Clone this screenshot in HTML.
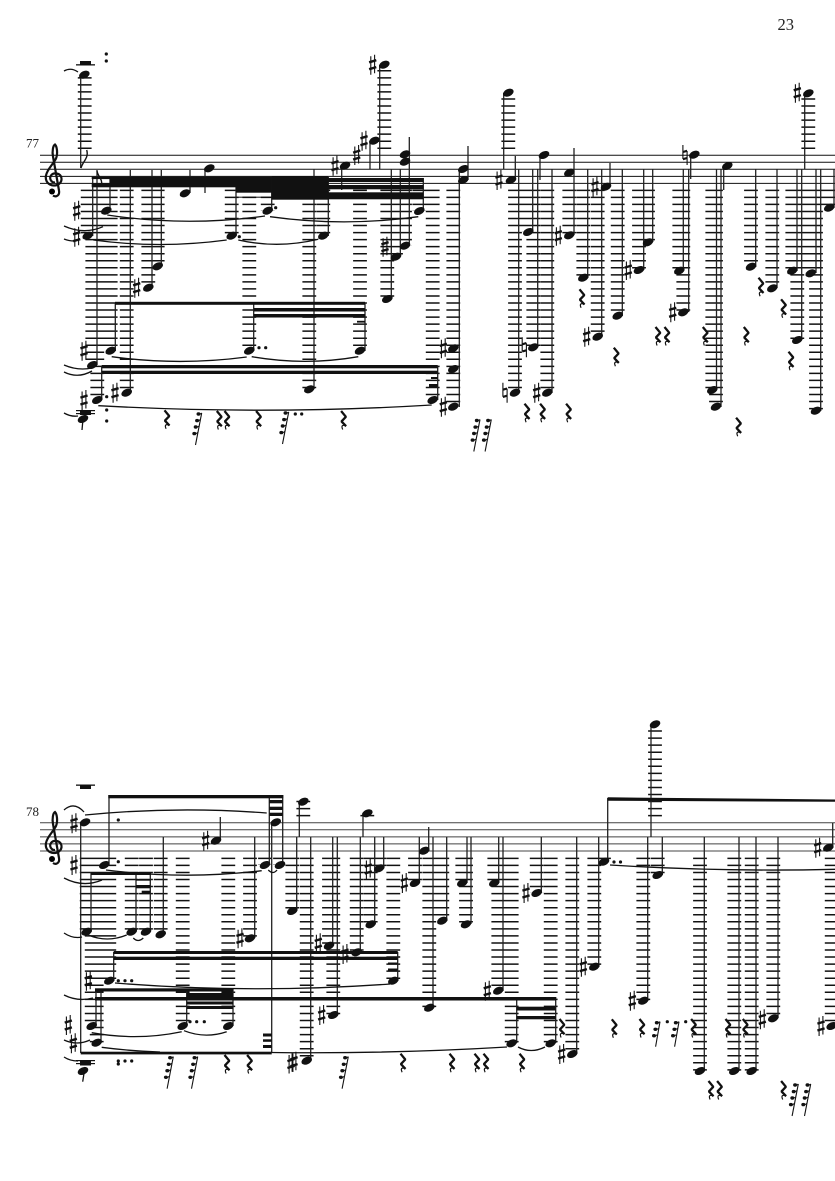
<!DOCTYPE html>
<html><head><meta charset="utf-8"><title>Score page 23</title>
<style>html,body{margin:0;padding:0;background:#fff}svg{display:block}text{font-family:"Liberation Serif",serif;fill:#222}</style></head>
<body>
<svg width="835" height="1181" viewBox="0 0 835 1181" xmlns="http://www.w3.org/2000/svg">
<defs>
<ellipse id="n" rx="5.600" ry="3.600" transform="rotate(-25)"/>
<g id="s" fill="none" stroke="#111"><path d="M-1.900-8.500V10M1.900-10V8.500" stroke-width="1.100"/><path d="M-3.600-2.400L3.600-4.500M-3.600 4.500L3.600 2.400" stroke-width="2.400"/></g>
<g id="h" fill="none" stroke="#111"><path d="M-2.100-10V4M2.100-4V10" stroke-width="1.100"/><path d="M-2.100-3L2.100-4.200M-2.100 4.200L2.100 3" stroke-width="2.200"/></g>
<g id="r" fill="none" stroke="#111"><path d="M-2.200-9L2.600-3.200L-1.800 1.400L2.800 6.200" stroke-width="2.300" stroke-linejoin="bevel"/><path d="M2.800 6.200C.5 4.800-2.800 4.600-.6 9.500" stroke-width="1.200"/></g>
<g id="f5"><path d="M0 0L-6.200 32" stroke="#111" stroke-width="1.100" fill="none"/><ellipse cx="-3.200" cy="1" rx="2" ry="1.700"/><ellipse cx="-4.600" cy="7.600" rx="2" ry="1.700"/><ellipse cx="-6" cy="14" rx="2" ry="1.700"/><ellipse cx="-7.400" cy="20.600" rx="2" ry="1.700"/><path d="M-3 2L0 0M-4.400 8.600L-1.400 6.600M-5.800 15L-2.700 13M-7.200 21.600L-4 19.600" stroke="#111"/></g>
<g id="f3"><path d="M0 0L-4.400 25" stroke="#111" stroke-width="1.100" fill="none"/><ellipse cx="-3.200" cy="1" rx="2" ry="1.700"/><ellipse cx="-4.600" cy="7.600" rx="2" ry="1.700"/><ellipse cx="-6" cy="14" rx="2" ry="1.700"/><path d="M-3 2L0 0M-4.400 8.600L-1.400 6.600M-5.800 15L-2.700 13" stroke="#111"/></g>
<g id="c"><path fill="none" stroke="#111" stroke-width="2.200" d="M1 6C-3 6-5 2-3-1C-1-4 5-4 7 0C9 5 5 9 0 9C-6 9-9 4-8-1C-7-7-1-12 2-18C4-23 3-30 1-32C-1-31-2-25-1-20L5 14C6 19 2 21-1 19"/><circle cx="-2" cy="15" r="3"/></g>
</defs>

<text x="777.500" y="30" font-size="16.500">23</text>
<text x="26" y="147.500" font-size="13">77</text>
<text x="26" y="816" font-size="13">78</text>

<!-- staves -->
<path fill="none" stroke="#111" stroke-width="1" d="M40 155.300H835M40 162.300H835M40 169.300H835M40 176.400H835M40 183.400H835"/>
<path fill="none" stroke="#444" stroke-width="1" d="M40 822.800H835M40 829.800H835M40 836.900H835M40 843.900H835M40 851H835"/>
<use href="#c" x="54" y="176.500"/><use href="#c" x="54" y="844"/>

<!-- ledger columns system 1 -->
<path fill="none" stroke="#111" stroke-width="13.800" stroke-dasharray="1.500 5.540" d="M87.700 189.600V236M92.300 189.600V365M97.300 189.600V400M106.300 189.600V211M110.700 189.600V351M126.700 189.600V393M148.300 189.600V288M157.700 189.600V266M231.700 189.600V236M249.300 189.600V351M267.700 189.600V211M309.300 189.600V389M323.300 189.600V236M360 189.600V351M387.300 189.600V299M396 189.600V257M405 189.600V246M419.300 189.600V211M432.700 189.600V400M453.300 189.600V407M515 189.600V393M528.300 189.600V232M533.300 189.600V347M547.300 189.600V393M569.300 189.600V235M583.300 189.600V278M597.700 189.600V337M617.700 189.600V316M639 189.600V270M648 189.600V242M679.300 189.600V271M683.300 189.600V312M712.300 189.600V390M716 189.600V407M751 189.600V267M772.300 189.600V288M792.300 189.600V271M797.300 189.600V340M810.700 189.600V273M816 189.600V411M829.300 189.600V208"/>
<path fill="none" stroke="#111" stroke-width="13.800" stroke-dasharray="1.500 5.540" d="M84.700 149V76M384.300 149V68M508.300 149V96M808.300 149V96"/>

<!-- ledger columns system 2 -->
<path fill="none" stroke="#111" stroke-width="13.800" stroke-dasharray="1.500 5.550" d="M86.700 857.600V932M91.700 857.600V1026M96.700 857.600V1043M104.300 857.600V865M109.300 857.600V981M131.700 857.600V932M146 857.600V932M160.700 857.600V934M182.700 857.600V1026M228.300 857.600V1026M250 857.600V938M265 857.600V865M280 857.600V865M292.300 857.600V911M306.700 857.600V1061M329 857.600V946M333.300 857.600V1015M356.700 857.600V952M370.700 857.600V924M379.300 857.600V868M393.300 857.600V981M415 857.600V883M429.300 857.600V1008M442.300 857.600V921M462.300 857.600V883M466 857.600V924M494.300 857.600V883M498.300 857.600V991M511.700 857.600V1043M536.700 857.600V893M550.700 857.600V1043M572.300 857.600V1054M594.300 857.600V967M604 857.600V862M643.300 857.600V1001M657.700 857.600V875M700 857.600V1071M734.300 857.600V1071M751.700 857.600V1071M773.300 857.600V1018M831.700 857.600V1026"/>
<path fill="none" stroke="#111" stroke-width="13.800" stroke-dasharray="1.500 5.550" d="M303.300 816.400V800M367.300 816.400V814M655 816.400V727"/>

<!-- stems -->
<path fill="none" stroke="#222" stroke-width="1.300" d="M80.700 75V168M92.700 178V236M97 170V365M110 177V211M115.300 303V351M101.700 366V400M130.300 170V393M152 170V288M161.300 170V266M190 170V193M205 168V193M236 177V236M271.700 177V211M253.700 303V351M314 169V389M328.300 177V236M341.700 166V190M370 141V169M379.700 65V169M365 303V351M391.300 169V299M400.300 169V257M409.300 137V246M423.300 178V211M437.700 366V400M459.300 169V407M468 146V180M503.700 93V169M515.300 156V180M518.700 169V393M532.700 169V232M537.700 169V347M540 155V180M552 169V393M574 148V235M587.700 169V278M601.700 169V337M610 163V187M622.300 169V316M643.700 169V270M652.700 169V242M683.300 169V271M688.700 169V312M690.700 155V179M723.700 166V190M716.500 169V390M721 169V407M755.700 169V267M777 169V288M797 169V271M804.700 93V169M801.700 169V340M816 169V273M820.700 169V411M834 169V208"/>
<path fill="none" stroke="#222" stroke-width="1.300" d="M80.700 822V1053M109 795V865M269.300 795V865M282.700 795V865M271.700 822V1053M91 872V932M136 872V932M150.300 872V932M163.300 837V934M220.300 817V841M254.700 837V938M96 989V1026M101 989V1043M113.700 952V981M186.700 989V1026M233 989V1026M299.300 802V837M296.700 837V911M310.700 837V1061M332.700 837V946M337.300 837V1015M360.300 837V952M363 813V837M374.700 837V924M383.700 837V868M397.700 952V981M419.300 837V883M428.700 827V851M433 837V1008M446.700 837V921M467 837V883M471 837V924M498.700 837V883M503 837V991M516.700 997V1043M541.300 837V893M555.700 997V1043M576.700 837V1054M598.700 837V967M607.700 798V862M651 725V837M662.300 837V875M647.700 837V1001M704.300 837V1071M739 837V1071M756 837V1071M778 837V1018M832.700 823V848"/>

<!-- flags -->
<path fill="none" stroke="#111" stroke-width="1.400" d="M81 168C83 161 89 158 86.700 150M97 171C98 177 103 179 101.500 186"/>

<!-- beams -->
<g fill="#111">
<rect x="91.700" y="176.700" width="18.300" height="2.400"/><rect x="91.700" y="183" width="18.300" height="4.300"/>
<rect x="110" y="176.700" width="126" height="10.600"/>
<rect x="236" y="176.700" width="35.700" height="16"/><rect x="236" y="196.700" width="35.700" height="1"/>
<rect x="271.700" y="176.300" width="56.600" height="23.400"/>
<rect x="328" y="178" width="95.500" height="4"/><rect x="328" y="185" width="95.500" height="4.300"/><rect x="328" y="192.300" width="95.500" height="7"/>
<rect x="115" y="301.800" width="250" height="3"/><rect x="253.700" y="308" width="111.300" height="3.500"/><rect x="253.700" y="314" width="111.300" height="3.500"/><rect x="357" y="320.800" width="8" height="1.800"/>
<rect x="101.700" y="365" width="336" height="3.300"/><rect x="101.700" y="370.700" width="336" height="3.300"/>
<rect x="431" y="377" width="6.700" height="2"/><rect x="429" y="384" width="8.700" height="3"/>
<rect x="76" y="64.200" width="19" height="1.300"/><rect x="80" y="61" width="11" height="3.600"/>
<rect x="76" y="410" width="19" height="1.200"/><rect x="76" y="413" width="19" height="1.200"/><rect x="80" y="410.500" width="11" height="4.500"/>
<rect x="108.300" y="795" width="175" height="3.300"/>
<rect x="269.300" y="800" width="13.400" height="3.300"/><rect x="269.300" y="806.700" width="13.400" height="3.300"/><rect x="269.300" y="812.700" width="13.400" height="3.300"/>
<rect x="76" y="784.500" width="19" height="1.300"/><rect x="80" y="785" width="11" height="4"/>
<rect x="91" y="872" width="60" height="3"/><rect x="136" y="879" width="14.300" height="1.700"/><rect x="136" y="885" width="14.300" height="3.300"/><rect x="141.700" y="890.700" width="8.600" height="3"/>
<rect x="113.700" y="951" width="284" height="3"/><rect x="113.700" y="956.700" width="284" height="3.300"/><rect x="388" y="962.500" width="9.700" height="2"/><rect x="388" y="968.500" width="9.700" height="2"/>
<rect x="95" y="988.300" width="138" height="3.200"/><rect x="95" y="997" width="461" height="3.500"/>
<rect x="186.700" y="993" width="46.300" height="7.500"/><rect x="186.700" y="1001.500" width="46.300" height="3"/><rect x="186.700" y="1006" width="46.300" height="3"/>
<rect x="516.700" y="1006.700" width="39" height="3.800"/><rect x="516.700" y="1016" width="39" height="3.300"/>
<rect x="80.700" y="1051.700" width="191" height="2.700"/>
<rect x="263" y="1033.500" width="8.700" height="3"/><rect x="263" y="1039.300" width="8.700" height="2.500"/><rect x="263" y="1045" width="8.700" height="3"/>
<rect x="76" y="1060" width="19" height="1.200"/><rect x="76" y="1063" width="19" height="1.200"/><rect x="80" y="1060.500" width="11" height="5"/>
<path d="M607.700 797.300L835 799.500V801.800L607.700 800.700Z"/>
</g>

<!-- ties -->
<path fill="none" stroke="#111" stroke-width="1.300" d="M64 71Q71 67 78 72M107.300 215Q186 227 265 216M270 216.700Q344 227 418.300 216.700M93.300 240Q160 249 226.700 240M238.300 240Q278 249 318.300 239.300M64 226Q84 235 103 226.700M64 239Q69 241 74 241M111.700 356.700Q179 366 246.700 357M251.700 356.700Q305 366 358.300 356.700M64 365Q78 371 92 368M64 372Q78 379 92 371M98.300 405.700Q265 415 431.700 405M64 413Q71 417 78 416M64 810Q74 801 84 812M85 815Q176 806 266.700 813M106 870Q184 880 261.700 870.700M268.300 870Q273 875 277 870M64 878Q83 888 102 880M64 933Q73 939 82 937M88.300 935Q107 943 126.700 935M133.300 938Q138 943 143.300 938M115 983Q252 994 390 984M91.700 1032.700Q137 1041 181.700 1031.700M184 1030.700Q205 1039 226.700 1031.700M101.700 1047.300Q130 1051 160 1052M64 995Q78 1002 93 998M64 1040Q77 1046 90 1040M64 1057Q70 1061 78 1061M271 1052.500Q390 1054 507 1047M518 1047Q531 1054 545 1047M610 865Q720 872 835 869.300"/>

<!-- noteheads system 1 -->
<g fill="#111">
<use href="#n" x="84.300" y="74.700"/><use href="#n" x="106.300" y="210.700"/><use href="#n" x="87.700" y="235.700"/><use href="#n" x="110.700" y="350.700"/><use href="#n" x="92.300" y="365"/><use href="#n" x="126.700" y="392.700"/><use href="#n" x="97.300" y="400"/><use href="#n" x="148.300" y="287.700"/><use href="#n" x="157.700" y="266.300"/><use href="#n" x="185" y="193.300"/><use href="#n" x="209.300" y="168.300"/><use href="#n" x="231.700" y="235.700"/><use href="#n" x="267.700" y="210.700"/><use href="#n" x="249.300" y="350.700"/><use href="#n" x="309.300" y="389.300"/><use href="#n" x="323.300" y="235.700"/><use href="#n" x="345" y="165.700"/><use href="#n" x="374.300" y="140.700"/><use href="#n" x="384.300" y="64.700"/><use href="#n" x="360" y="350.700"/><use href="#n" x="387.300" y="299"/><use href="#n" x="396" y="256.700"/><use href="#n" x="405" y="245.700"/><use href="#n" x="405" y="154.300"/><use href="#n" x="405" y="161.700"/><use href="#n" x="419.300" y="211"/><use href="#n" x="432.700" y="400"/><use href="#n" x="453.300" y="348.300"/><use href="#n" x="453.300" y="369"/><use href="#n" x="453.300" y="406.700"/><use href="#n" x="463.300" y="169"/><use href="#n" x="463.300" y="180"/><use href="#n" x="508.300" y="92.700"/><use href="#n" x="511" y="180"/><use href="#n" x="515" y="392.700"/><use href="#n" x="528.300" y="232"/><use href="#n" x="533.300" y="347.300"/><use href="#n" x="544" y="155"/><use href="#n" x="547.300" y="392.700"/><use href="#n" x="569.300" y="172.700"/><use href="#n" x="569.300" y="235.300"/><use href="#n" x="583.300" y="277.700"/><use href="#n" x="597.700" y="336.700"/><use href="#n" x="606" y="186.700"/><use href="#n" x="617.700" y="315.700"/><use href="#n" x="639" y="270"/><use href="#n" x="648" y="242.300"/><use href="#n" x="679.300" y="270.700"/><use href="#n" x="683.300" y="312.300"/><use href="#n" x="694.300" y="154.700"/><use href="#n" x="727.300" y="166"/><use href="#n" x="712.300" y="390"/><use href="#n" x="716" y="406.700"/><use href="#n" x="751" y="266.700"/><use href="#n" x="772.300" y="288.300"/><use href="#n" x="792.300" y="270.700"/><use href="#n" x="797.300" y="340"/><use href="#n" x="808.300" y="93.300"/><use href="#n" x="810.700" y="273.300"/><use href="#n" x="816" y="410.700"/><use href="#n" x="829.300" y="207.700"/><use href="#n" x="83" y="419" />

<!-- noteheads system 2 -->
<use href="#n" x="85" y="822.300"/><use href="#n" x="104.300" y="865"/><use href="#n" x="265" y="865"/><use href="#n" x="280" y="865"/><use href="#n" x="275.700" y="822.300"/><use href="#n" x="86.700" y="931.700"/><use href="#n" x="131.700" y="931.700"/><use href="#n" x="146" y="931.700"/><use href="#n" x="160.700" y="934.300"/><use href="#n" x="216" y="840.700"/><use href="#n" x="250" y="938.300"/><use href="#n" x="91.700" y="1026"/><use href="#n" x="96.700" y="1042.700"/><use href="#n" x="109.300" y="980.700"/><use href="#n" x="182.700" y="1026"/><use href="#n" x="228.300" y="1026"/><use href="#n" x="83" y="1071"/><use href="#n" x="303.300" y="801.700"/><use href="#n" x="292.300" y="911"/><use href="#n" x="306.700" y="1060.700"/><use href="#n" x="329" y="945.700"/><use href="#n" x="333.300" y="1015"/><use href="#n" x="356.700" y="952.300"/><use href="#n" x="367.300" y="813.300"/><use href="#n" x="370.700" y="924.300"/><use href="#n" x="379.300" y="868.300"/><use href="#n" x="393.300" y="980.700"/><use href="#n" x="415" y="883"/><use href="#n" x="424.300" y="850.700"/><use href="#n" x="429.300" y="1007.700"/><use href="#n" x="442.300" y="920.700"/><use href="#n" x="462.300" y="883"/><use href="#n" x="466" y="924.300"/><use href="#n" x="494.300" y="883"/><use href="#n" x="498.300" y="990.700"/><use href="#n" x="511.700" y="1043.300"/><use href="#n" x="536.700" y="893"/><use href="#n" x="550.700" y="1043.300"/><use href="#n" x="572.300" y="1054"/><use href="#n" x="594.300" y="966.700"/><use href="#n" x="604" y="861.700"/><use href="#n" x="655" y="724.300"/><use href="#n" x="657.700" y="875"/><use href="#n" x="643.300" y="1000.700"/><use href="#n" x="700" y="1071"/><use href="#n" x="734.300" y="1071"/><use href="#n" x="751.700" y="1071"/><use href="#n" x="773.300" y="1018.300"/><use href="#n" x="828.300" y="847.700"/><use href="#n" x="831.700" y="1026"/>
</g>
<path fill="none" stroke="#111" stroke-width="1.300" d="M83 419L82 430M85 1067L82.700 1081.700"/>

<!-- accidentals -->
<use href="#s" x="76.700" y="210.700"/><use href="#s" x="76.700" y="236.700"/><use href="#s" x="84" y="350.700"/><use href="#s" x="84" y="400"/><use href="#s" x="115" y="392.700"/><use href="#s" x="136.700" y="287.700"/><use href="#s" x="335" y="165.700"/><use href="#s" x="356.700" y="155"/><use href="#s" x="364" y="140.700"/><use href="#s" x="372.700" y="64.700"/><use href="#s" x="385" y="246.700"/><use href="#s" x="443.300" y="348.300"/><use href="#s" x="443.300" y="406.700"/><use href="#s" x="499" y="180"/><use href="#s" x="536.700" y="392.700"/><use href="#s" x="558.300" y="235.700"/><use href="#s" x="586.700" y="336.700"/><use href="#s" x="595" y="186.700"/><use href="#s" x="628.300" y="270"/><use href="#s" x="672.700" y="312.300"/><use href="#s" x="797.300" y="92.700"/>
<use href="#h" x="505" y="392.700"/><use href="#h" x="524.300" y="347.300"/><use href="#h" x="685" y="155"/>
<use href="#s" x="74" y="823.300"/><use href="#s" x="74" y="865"/><use href="#s" x="205.700" y="840.700"/><use href="#s" x="240" y="938.300"/><use href="#s" x="88.300" y="980.700"/><use href="#s" x="68.300" y="1025"/><use href="#s" x="73.300" y="1043.300"/><use href="#s" x="294" y="1061.700"/><use href="#s" x="291" y="1063.500"/><use href="#s" x="318.300" y="943.300"/><use href="#s" x="321.700" y="1015"/><use href="#s" x="345" y="954"/><use href="#s" x="368.300" y="869"/><use href="#s" x="404.300" y="883"/><use href="#s" x="487.300" y="990.700"/><use href="#s" x="526" y="893"/><use href="#s" x="561.700" y="1054"/><use href="#s" x="583.300" y="966.700"/><use href="#s" x="632.300" y="1000.700"/><use href="#s" x="762.300" y="1019.300"/><use href="#s" x="817.700" y="847.700"/><use href="#s" x="821" y="1026"/>

<!-- rests -->
<g fill="#111">
<use href="#r" x="166.700" y="419.300"/><use href="#r" x="219" y="420"/><use href="#r" x="226.700" y="420"/><use href="#r" x="258.300" y="420"/><use href="#r" x="343.300" y="420"/><use href="#r" x="526.700" y="412.700"/><use href="#r" x="542.300" y="412.700"/><use href="#r" x="568.300" y="412.700"/><use href="#r" x="581.700" y="298.300"/><use href="#r" x="616" y="356.700"/><use href="#r" x="657.700" y="336"/><use href="#r" x="666.700" y="336"/><use href="#r" x="705" y="336"/><use href="#r" x="746" y="336"/><use href="#r" x="760.700" y="286.700"/><use href="#r" x="783.300" y="308.300"/><use href="#r" x="790.700" y="360.700"/><use href="#r" x="738.300" y="426.700"/>
<use href="#f5" x="201.700" y="413"/><use href="#f5" x="288.700" y="412"/><use href="#f5" x="480" y="419.500"/><use href="#f5" x="491.300" y="419.500"/>
<use href="#r" x="226.700" y="1064"/><use href="#r" x="249.300" y="1064"/><use href="#r" x="402.700" y="1062.700"/><use href="#r" x="451.700" y="1062.700"/><use href="#r" x="476.700" y="1062.700"/><use href="#r" x="485.700" y="1062.700"/><use href="#r" x="521.700" y="1062.700"/><use href="#r" x="561.700" y="1028"/><use href="#r" x="614" y="1028.300"/><use href="#r" x="641.700" y="1028"/><use href="#r" x="693.300" y="1028"/><use href="#r" x="727.700" y="1028"/><use href="#r" x="745" y="1028"/><use href="#r" x="710.700" y="1090"/><use href="#r" x="719.300" y="1090"/><use href="#r" x="783.300" y="1090"/>
<use href="#f5" x="173.300" y="1056.700"/><use href="#f5" x="197.700" y="1056.700"/><use href="#f5" x="348.300" y="1056.700"/><use href="#f3" x="660" y="1021.700"/><use href="#f3" x="679" y="1021.700"/><use href="#f5" x="798.300" y="1084"/><use href="#f5" x="810.700" y="1084"/>

<!-- dots -->
<circle cx="106.300" cy="54" r="1.600"/><circle cx="106.300" cy="61" r="1.600"/><circle cx="106.700" cy="396.700" r="1.600"/><circle cx="106.700" cy="410" r="1.600"/><circle cx="106.700" cy="421" r="1.600"/><circle cx="239.300" cy="236.700" r="1.600"/><circle cx="275.700" cy="207.700" r="1.600"/><circle cx="259" cy="347.700" r="1.600"/><circle cx="265.700" cy="347.700" r="1.600"/><circle cx="295.300" cy="414" r="1.600"/><circle cx="301.700" cy="414" r="1.600"/>
<circle cx="118.300" cy="820" r="1.600"/><circle cx="118.300" cy="861.700" r="1.600"/><circle cx="118.300" cy="980.700" r="1.600"/><circle cx="125" cy="980.700" r="1.600"/><circle cx="131.700" cy="980.700" r="1.600"/><circle cx="190" cy="1021.700" r="1.600"/><circle cx="196.700" cy="1021.700" r="1.600"/><circle cx="204.300" cy="1021.700" r="1.600"/><circle cx="118.300" cy="1061" r="1.600"/><circle cx="118.300" cy="1064" r="1.600"/><circle cx="125" cy="1061" r="1.600"/><circle cx="131.700" cy="1061" r="1.600"/><circle cx="667.300" cy="1021.700" r="1.600"/><circle cx="685.700" cy="1021.700" r="1.600"/><circle cx="614" cy="862" r="1.600"/><circle cx="620.500" cy="862" r="1.600"/>
</g>
</svg>
</body></html>
